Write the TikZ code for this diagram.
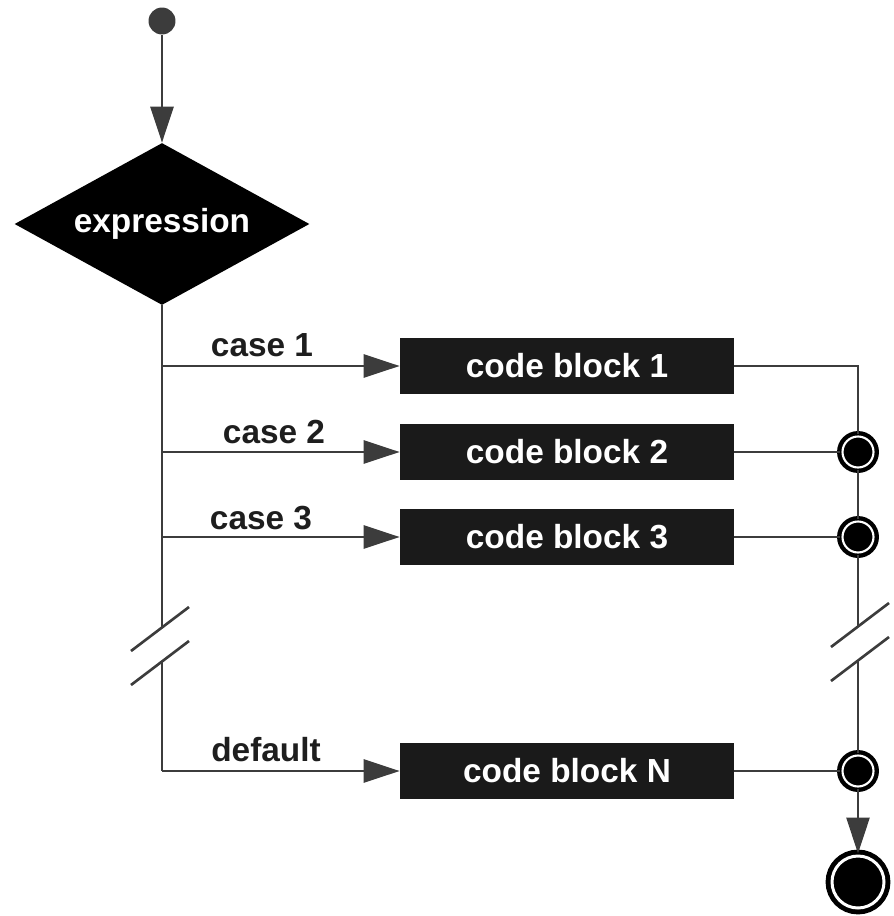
\documentclass[tikz,border=0pt]{standalone}
\usepackage{fontspec}
\setmainfont{Liberation Sans}
\usetikzlibrary{shapes.geometric,arrows.meta}
\definecolor{linegray}{HTML}{3C3C3C}
\definecolor{boxblack}{HTML}{1A1A1A}
\definecolor{textgray}{HTML}{1E1E1E}
\begin{document}
\begin{tikzpicture}[x=0.02cm,y=0.02cm,
  every node/.style={font=\fontsize{19}{22}\selectfont\bfseries},
  flow/.style={draw=linegray,line width=1.5pt},
  arr/.style={flow,-{Triangle[length=0.72cm,width=0.46cm]}},
  codebox/.style={rectangle,fill=boxblack,text=white,minimum width=6.68cm,minimum height=1.12cm},
  decision/.style={diamond,aspect=1.82,fill=black,text=white,minimum width=5.9cm,minimum height=3.24cm,inner sep=0pt},
  caselbl/.style={text=textgray,inner sep=0pt},
  startdot/.style={circle,fill=linegray,minimum size=0.54cm,inner sep=0pt},
  junction/.style={circle,fill=black,draw=black,double=white,double distance=1.2pt,line width=2.5pt,minimum size=0.62cm,inner sep=0pt},
  stopdot/.style={circle,fill=black,draw=black,double=white,double distance=1.7pt,line width=2.8pt,minimum size=1.04cm,inner sep=0pt}]
\useasboundingbox (0,0) rectangle (893,-916);
% nodes
\node[startdot] (start) at (162,-21) {};
\node[decision] (expr) at (162,-224) {expression};
\node[codebox] (cb1) at (567,-366) {code block 1};
\node[codebox] (cb2) at (567,-452) {code block 2};
\node[codebox] (cb3) at (567,-537) {code block 3};
\node[codebox] (cbN) at (567,-771) {code block N};
\node[junction] (j2) at (858,-452) {};
\node[junction] (j3) at (858,-537) {};
\node[junction] (jN) at (858,-771) {};
\node[stopdot] (stop) at (858,-882) {};
\node[caselbl] (l1) at (262,-345) {case 1};
\node[caselbl] (l2) at (274,-432) {case 2};
\node[caselbl] (l3) at (261,-518) {case 3};
\node[caselbl] (lN) at (266,-750) {default};
\coordinate (b1) at (162,-366);
\coordinate (b2) at (162,-452);
\coordinate (b3) at (162,-537);
\coordinate (bN) at (162,-771);
\coordinate (brkLa) at (162,-627);
\coordinate (brkLb) at (162,-661);
\coordinate (brkRa) at (858,-626);
\coordinate (brkRb) at (858,-660);
% connectors
\draw[arr] (start) -- (expr.north);
\draw[flow] (expr.south) -- (brkLa);
\draw[flow] (brkLb) -- (bN);
\foreach \b in {1,2,3,N} \draw[arr] (b\b) -- (cb\b);
\draw[flow] (cb1.east) -| (j2);
\draw[flow] (cb2) -- (j2);
\draw[flow] (cb3) -- (j3);
\draw[flow] (cbN) -- (jN);
\draw[flow] (j2) -- (j3);
\draw[flow] (j3) -- (brkRa);
\draw[flow] (brkRb) -- (jN);
\draw[arr] (jN) -- (stop);
% break marks
\foreach \x/\y in {160/-629,860/-625}
  \draw[flow,shift={(\x,\y)}] (-29,-22)--(29,22) (-29,-56)--(29,-12);
\end{tikzpicture}
\end{document}
